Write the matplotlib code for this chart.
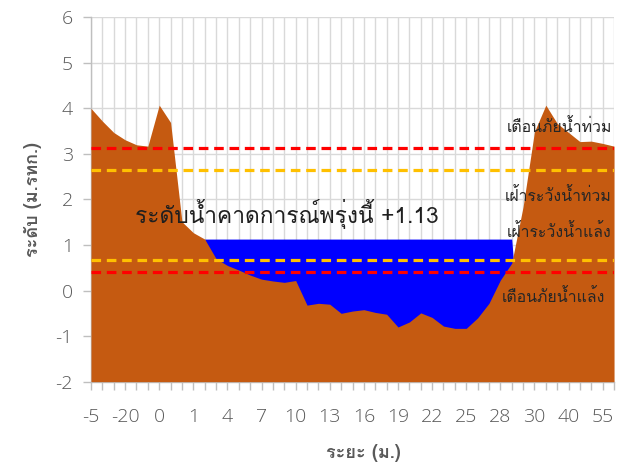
import matplotlib
matplotlib.use("Agg")
import matplotlib.pyplot as plt
import numpy as np
from matplotlib import font_manager
from matplotlib.ft2font import FT2Font

# distance labels (only every 3rd is shown on the axis)
distance = ["-5", "-40", "-30", "-20", "-15", "-10", "0", "0.3", "0.6", "1",
            "2", "3", "4", "5", "6", "7", "8", "9", "10", "11", "12", "13",
            "14", "15", "16", "17", "18", "19", "20", "21", "22", "23", "24",
            "25", "26", "27", "28", "29", "29.5", "30", "32", "35", "40",
            "45", "50", "55", "60"]

# ground level (m. MSL)
ground = [4.00, 3.72, 3.47, 3.31, 3.20, 3.17, 4.07, 3.69, 1.51, 1.27,
          1.13, 0.70, 0.55, 0.45, 0.34, 0.25, 0.21, 0.18, 0.22, -0.32,
          -0.28, -0.30, -0.50, -0.45, -0.42, -0.48, -0.52, -0.80, -0.69, -0.49,
          -0.59, -0.78, -0.83, -0.83, -0.60, -0.28, 0.23, 0.60, 1.84, 3.49,
          4.07, 3.67, 3.47, 3.27, 3.28, 3.23, 3.17]

water_level = 1.13
flood_alarm = 3.14
flood_watch = 2.64
drought_watch = 0.68
drought_alarm = 0.41


def thai_font():
    for f in font_manager.fontManager.ttflist:
        try:
            if 0x0E23 in FT2Font(f.fname).get_charmap():
                return f.name
        except Exception:
            pass
    return None


th = thai_font()
fams = [th, "DejaVu Sans"] if th else ["DejaVu Sans"]
plt.rcParams["font.family"] = fams
plt.rcParams["axes.unicode_minus"] = False

x = np.arange(len(ground))
g = np.array(ground)

fig = plt.figure(figsize=(6.19, 4.66), dpi=100)
ax = fig.add_axes([0.147, 0.181, 0.845, 0.782])

ax.fill_between(x, -2, water_level, where=g <= water_level, interpolate=True,
                color="#0000FF", lw=0, zorder=2)
ax.fill_between(x, -2, g, color="#C55A11", lw=0, zorder=3)

dash = (0, (3, 1.8))
ax.axhline(flood_alarm, color="#FF0000", lw=2.3, ls=dash, zorder=4)
ax.axhline(flood_watch, color="#FFC000", lw=2.3, ls=dash, zorder=4)
ax.axhline(drought_watch, color="#FFC000", lw=2.3, ls=dash, zorder=4)
ax.axhline(drought_alarm, color="#FF0000", lw=2.3, ls=dash, zorder=4)

ax.text(3.9, 1.48, "ระดับน้ำคาดการณ์พรุ่งนี้ +1.13", fontsize=16.4,
        color="#1f1f1f", va="baseline", ha="left", zorder=5)
lab = dict(fontsize=11.4, color="#262626", va="baseline", zorder=5)
ax.text(45.8, 3.47, "เตือนภัยน้ำท่วม", ha="right", **lab)
ax.text(45.8, 1.97, "เฝ้าระวังน้ำท่วม", ha="right", **lab)
ax.text(45.8, 1.18, "เฝ้าระวังน้ำแล้ง", ha="right", **lab)
ax.text(45.2, -0.25, "เตือนภัยน้ำแล้ง", ha="right", **lab)

ax.set_xlim(0, len(ground) - 1)
ax.set_ylim(-2, 6)
ax.set_xticks(x)
ax.set_xticklabels([d if i % 3 == 0 else "" for i, d in enumerate(distance)])
ax.set_yticks(range(-2, 7))
for t in ax.get_xticklabels() + ax.get_yticklabels():
    t.set_family(["Open Sans", "DejaVu Sans"])
    t.set_fontweight("light")

ax.grid(True, color="#D9D9D9", lw=1, zorder=0)
ax.set_axisbelow(True)
for s in ["top", "right"]:
    ax.spines[s].set_visible(False)
for s in ["left", "bottom"]:
    ax.spines[s].set_color("#BFBFBF")
    ax.spines[s].set_linewidth(1)
ax.tick_params(colors="#595959", labelsize=14, length=6, width=1)
ax.tick_params(axis="x", color="#BFBFBF", pad=13)
ax.tick_params(axis="y", color="#BFBFBF", pad=7)

ax.set_ylabel("ระดับ (ม.รทก.)", fontsize=13, fontweight="bold",
              color="#595959", labelpad=10)
ax.set_xlabel("ระยะ (ม.)", fontsize=13, fontweight="bold", color="#595959")
ax.xaxis.set_label_coords(0.52, -0.17)

fig.savefig("out.png", dpi=100)
